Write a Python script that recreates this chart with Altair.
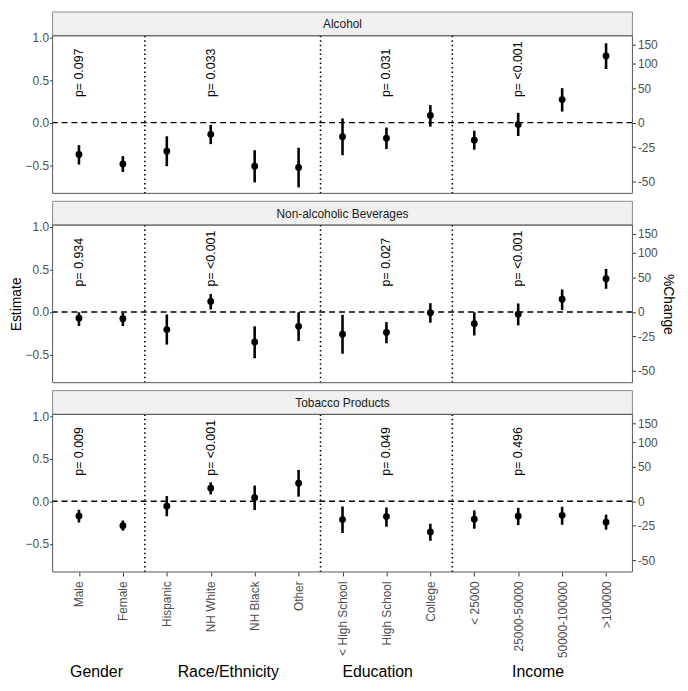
import json
import altair as alt
import numpy as np
import pandas as pd

categories = ["Male", "Female", "Hispanic", "NH White", "NH Black", "Other",
              "< High School", "High School", "College",
              "< 25000", "25000-50000", "50000-100000", ">100000"]
panels = ["Alcohol", "Non-alcoholic Beverages", "Tobacco Products"]

alcohol_est = [-0.374, -0.485, -0.336, -0.137, -0.511, -0.527, -0.164, -0.183, 0.084, -0.206, -0.023, 0.271, 0.782]
alcohol_lo = [-0.492, -0.580, -0.511, -0.252, -0.702, -0.760, -0.382, -0.309, -0.046, -0.317, -0.156, 0.130, 0.630]
alcohol_hi = [-0.263, -0.393, -0.160, -0.027, -0.324, -0.294, 0.050, -0.057, 0.206, -0.095, 0.115, 0.405, 0.931]

nonalc_est = [-0.073, -0.080, -0.207, 0.123, -0.352, -0.169, -0.261, -0.241, -0.008, -0.138, -0.027, 0.149, 0.391]
nonalc_lo = [-0.165, -0.165, -0.383, 0.030, -0.544, -0.341, -0.490, -0.368, -0.126, -0.276, -0.157, 0.023, 0.272]
nonalc_hi = [-0.004, -0.010, -0.030, 0.210, -0.169, -0.004, -0.034, -0.119, 0.103, -0.004, 0.100, 0.264, 0.506]

tobacco_est = [-0.172, -0.287, -0.057, 0.153, 0.042, 0.211, -0.215, -0.180, -0.360, -0.211, -0.176, -0.165, -0.245]
tobacco_lo = [-0.249, -0.345, -0.176, 0.080, -0.103, 0.054, -0.372, -0.299, -0.464, -0.322, -0.280, -0.276, -0.333]
tobacco_hi = [-0.100, -0.226, 0.061, 0.222, 0.184, 0.368, -0.061, -0.073, -0.264, -0.107, -0.077, -0.065, -0.157]

alcohol_p = ["p= 0.097", "p= 0.033", "p= 0.031", "p= <0.001"]
nonalc_p = ["p= 0.934", "p= <0.001", "p= 0.027", "p= <0.001"]
tobacco_p = ["p= 0.009", "p= <0.001", "p= 0.049", "p= 0.496"]
p_anchor = ["Male", "NH White", "High School", "25000-50000"]
p_y = 0.3

groups = ["Gender", "Race/Ethnicity", "Education", "Income"]
group_pos = [1.4, 4.4, 7.8, 11.45]   # label centres, in category units
group_last = ["Female", "Other", "College", ">100000"]

est_ticks = [-0.5, 0.0, 0.5, 1.0]
pct_ticks = [-50, -25, 0, 50, 100, 150]

series = [
    (alcohol_est, alcohol_lo, alcohol_hi, alcohol_p),
    (nonalc_est, nonalc_lo, nonalc_hi, nonalc_p),
    (tobacco_est, tobacco_lo, tobacco_hi, tobacco_p),
]

W = 585
H = 159
SH = 24
GAP = 8
FONT = "Liberation Sans"
YDOM = [-0.83, 1.02]
XDOM = [0.4, len(categories) + 0.6]

idx = {c: i + 1 for i, c in enumerate(categories)}
sep_x = [idx[g] + 0.5 for g in group_last[:-1]]
pct_pos = [float(np.log1p(p / 100.0)) for p in pct_ticks]
cat_lookup = json.dumps(categories)

xscale = alt.Scale(domain=XDOM, nice=False, zero=False)
yscale = alt.Scale(domain=YDOM, nice=False, zero=False)
one = pd.DataFrame({"k": [0]})


def strip(r):
    gap = 0 if r == 0 else GAP
    bg = alt.Chart(one).mark_rect(fill="#F0F0F0", stroke="#8A8A8A", strokeWidth=1).encode(
        x=alt.value(0), x2=alt.value(W), y=alt.value(gap), y2=alt.value(gap + SH))
    txt = alt.Chart(pd.DataFrame({"lab": [panels[r]]})).mark_text(
        fontSize=12, color="#1A1A1A", baseline="middle", align="center", font=FONT).encode(
        x=alt.value(W / 2), y=alt.value(gap + SH / 2 + 0.5), text="lab:N")
    return alt.layer(bg, txt).properties(width=W, height=SH + gap)


def panel(r):
    est, lo, hi, pv = series[r]
    df = pd.DataFrame({"x": list(range(1, len(categories) + 1)), "est": est, "lo": lo, "hi": hi})
    bottom = r == len(series) - 1
    middle = r == 1
    if bottom:
        xaxis = alt.Axis(values=list(range(1, len(categories) + 1)),
                         labelExpr=f"{cat_lookup}[datum.value - 1]",
                         labelAngle=270, labelAlign="right", labelBaseline="middle",
                         labelFontSize=12, labelColor="#4D4D4D", labelPadding=5,
                         labelOverlap=False, labelFlush=False, tickSize=4, tickColor="#333333",
                         grid=False, domain=False, title="")
    else:
        xaxis = None
    ltitle = dict(title="Estimate", titleFontSize=14, titleFontWeight="normal",
                  titleColor="black", titlePadding=2) if middle else dict(title="")
    rtitle = dict(title="%Change", titleFontSize=14, titleFontWeight="normal",
                  titleColor="black", titlePadding=3) if middle else dict(title="")
    yaxis = alt.Axis(values=est_ticks, format=".1f", grid=False, domain=False,
                     tickSize=3, tickColor="#333333", labelColor="#4D4D4D", labelFontSize=12,
                     labelPadding=1, **ltitle)
    raxis = alt.Axis(values=pct_pos, orient="right",
                     labelExpr="toString(round((exp(datum.value) - 1) * 100))",
                     grid=False, domain=False, tickSize=3, tickColor="#333333",
                     labelColor="#4D4D4D", labelFontSize=12, labelPadding=2, **rtitle)

    base = alt.Chart(df)
    seps = alt.Chart(pd.DataFrame({"sx": sep_x})).mark_rule(
        color="black", strokeDash=[1.5, 3], strokeWidth=1.6).encode(
        x=alt.X("sx:Q", scale=xscale, axis=xaxis))
    hline = alt.Chart(pd.DataFrame({"hy": [0.0]})).mark_rule(
        color="black", strokeDash=[6, 4], strokeWidth=1.4).encode(
        y=alt.Y("hy:Q", scale=yscale, axis=yaxis))
    bars = base.mark_rule(color="black", strokeWidth=2.6).encode(
        x=alt.X("x:Q", scale=xscale, axis=xaxis),
        y=alt.Y("lo:Q", scale=yscale, axis=yaxis), y2="hi:Q")
    pts = base.mark_circle(color="black", size=48, opacity=1).encode(
        x=alt.X("x:Q", scale=xscale, axis=xaxis),
        y=alt.Y("est:Q", scale=yscale, axis=yaxis))
    ptxt = alt.Chart(pd.DataFrame({"px": [idx[a] for a in p_anchor], "py": [p_y] * 4, "pt": pv})).mark_text(
        angle=270, align="left", baseline="middle", fontSize=12.5, color="black", font=FONT).encode(
        x=alt.X("px:Q", scale=xscale, axis=xaxis),
        y=alt.Y("py:Q", scale=yscale, axis=yaxis), text="pt:N")
    border = alt.Chart(one).mark_rect(fillOpacity=0, stroke="#555555", strokeWidth=1).encode(
        x=alt.value(0), x2=alt.value(W), y=alt.value(0), y2=alt.value(H))
    layers = [seps, hline, bars, pts, ptxt, border]
    if bottom:
        gdf = pd.DataFrame({"gx": group_pos, "g": groups})
        glab = alt.Chart(gdf).mark_text(fontSize=16, color="black", baseline="middle", font=FONT).encode(
            x=alt.X("gx:Q", scale=xscale, axis=xaxis), y=alt.value(260), text="g:N")
        layers.append(glab)
    left = alt.layer(*layers)
    right = base.mark_point(opacity=0).encode(
        x=alt.X("x:Q", scale=xscale, axis=xaxis),
        y=alt.Y("est:Q", scale=yscale, axis=raxis))
    return alt.layer(left, right).resolve_axis(y="independent").properties(width=W, height=H)


items = []
for r in range(len(series)):
    items.append(strip(r))
    items.append(panel(r))

chart = alt.vconcat(*items, spacing=0, bounds="flush").properties(
    padding={"left": 0, "top": 0, "right": 5, "bottom": 0}, background="white"
).configure(font=FONT).configure_view(stroke="transparent")

chart.save("out.html", embed_options={"renderer": "svg", "actions": False})
